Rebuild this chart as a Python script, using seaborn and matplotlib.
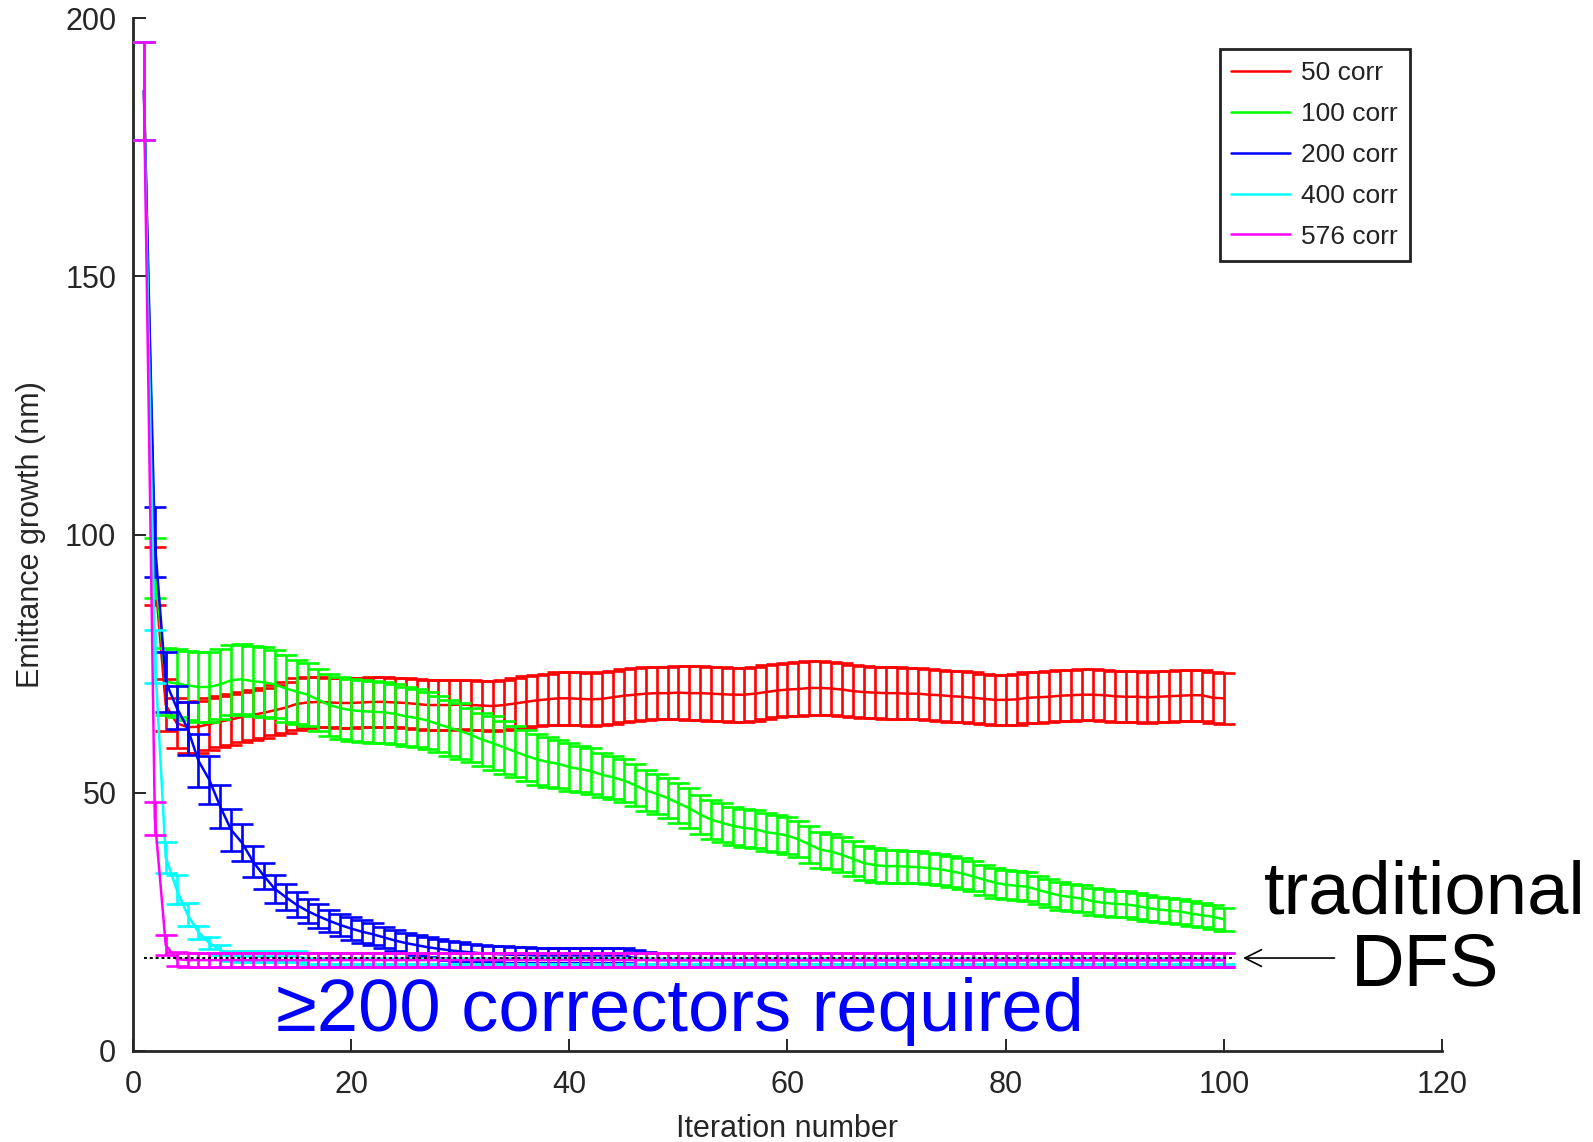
import matplotlib
matplotlib.use("Agg")
import matplotlib.pyplot as plt
import seaborn as sns
import pandas as pd
from matplotlib.lines import Line2D

# iteration numbers
iterations = list(range(1, 101))

# mean emittance growth (nm), one list per corrector count
corr50 = [186, 92, 67, 63.5, 62.7, 62.8, 63.3, 63.8, 64.2, 64.7,
          65.1, 65.5, 66.0, 66.5, 67.2, 67.5, 67.6, 67.5, 67.4, 67.4,
          67.5, 67.6, 67.6, 67.5, 67.4, 67.2, 67.0, 67.0, 67.0, 67.1,
          67.0, 66.9, 66.8, 67.0, 67.3, 67.6, 67.9, 68.1, 68.3, 68.3,
          68.2, 68.1, 68.2, 68.5, 68.8, 69.0, 69.2, 69.3, 69.3, 69.4,
          69.3, 69.3, 69.2, 69.1, 69.0, 69.0, 69.2, 69.5, 69.8, 70.0,
          70.1, 70.3, 70.3, 70.2, 70.0, 69.7, 69.5, 69.4, 69.3, 69.3,
          69.2, 69.2, 69.0, 68.9, 68.7, 68.6, 68.4, 68.2, 68.0, 68.0,
          68.1, 68.4, 68.5, 68.6, 68.8, 68.9, 69.0, 69.0, 68.9, 68.7,
          68.6, 68.6, 68.5, 68.6, 68.7, 68.8, 68.9, 68.9, 68.4, 68.3]
corr50_err = [9.5, 5.6, 5.0, 4.8, 4.9, 5.0, 5.0, 4.9, 4.9, 4.8,
              4.8, 4.8, 4.8, 4.9, 5.0, 4.9, 4.8, 4.8, 4.8, 4.8,
              4.8, 4.8, 4.8, 4.8, 4.8, 4.8, 4.8, 4.8, 4.8, 4.8,
              4.8, 4.8, 4.8, 4.9, 4.9, 5.0, 5.0, 5.0, 5.1, 5.1,
              5.1, 5.1, 5.1, 5.1, 5.1, 5.1, 5.1, 5.1, 5.1, 5.1,
              5.2, 5.2, 5.2, 5.2, 5.2, 5.2, 5.2, 5.2, 5.2, 5.2,
              5.2, 5.2, 5.2, 5.2, 5.2, 5.1, 5.1, 5.0, 5.0, 5.0,
              5.0, 4.9, 4.9, 4.9, 4.9, 4.9, 4.9, 4.9, 4.9, 4.9,
              4.9, 4.9, 4.9, 4.9, 4.9, 4.9, 4.9, 4.9, 4.9, 4.9,
              4.9, 4.9, 4.9, 4.9, 4.9, 4.9, 4.9, 4.9, 4.9, 4.9]

corr100 = [186, 93.5, 71.5, 71.2, 70.8, 70.5, 70.5, 71.0, 71.8, 72.0,
           71.6, 71.4, 71.0, 70.2, 69.6, 69.0, 68.0, 67.0, 66.4, 66.0,
           65.8, 65.7, 65.6, 65.3, 64.8, 64.5, 64.0, 63.3, 62.6, 62.0,
           61.2, 60.3, 59.6, 58.8, 58.0, 57.2, 56.5, 56.0, 55.6, 55.0,
           54.6, 54.2, 53.5, 53.0, 52.4, 51.5, 50.5, 49.8, 49.0, 48.0,
           47.0, 45.8, 44.8, 44.2, 43.6, 43.2, 43.0, 42.4, 42.1, 41.7,
           41.0, 40.0, 39.0, 38.6, 38.0, 37.2, 36.4, 36.0, 35.8, 35.8,
           35.7, 35.6, 35.4, 35.2, 34.8, 34.4, 33.8, 33.2, 32.6, 32.2,
           32.0, 31.8, 31.2, 30.6, 30.1, 29.8, 29.5, 29.0, 28.7, 28.5,
           28.4, 28.1, 27.7, 27.4, 27.2, 27.0, 26.6, 26.3, 26.0, 25.5]
corr100_err = [9.5, 5.8, 6.5, 6.6, 6.7, 6.8, 6.8, 6.8, 6.8, 6.8,
               6.8, 6.8, 6.6, 6.4, 6.2, 6.1, 6.0, 6.0, 6.0, 6.0,
               6.0, 6.0, 5.9, 5.8, 5.7, 5.6, 5.5, 5.4, 5.4, 5.4,
               5.3, 5.2, 5.2, 5.1, 5.0, 5.0, 4.9, 4.8, 4.7, 4.6,
               4.5, 4.4, 4.3, 4.2, 4.1, 4.0, 4.0, 3.9, 3.9, 3.9,
               3.9, 3.8, 3.8, 3.8, 3.7, 3.7, 3.7, 3.6, 3.6, 3.6,
               3.5, 3.5, 3.5, 3.4, 3.4, 3.4, 3.3, 3.3, 3.2, 3.2,
               3.1, 3.1, 3.0, 3.0, 3.0, 3.0, 2.9, 2.9, 2.9, 2.8,
               2.8, 2.8, 2.7, 2.7, 2.7, 2.6, 2.6, 2.6, 2.6, 2.5,
               2.5, 2.5, 2.5, 2.4, 2.4, 2.4, 2.4, 2.3, 2.3, 2.2]

corr200 = [186, 98.5, 71.5, 66.5, 62.5, 56.2, 52.5, 47.3, 42.8, 40.3,
           36.7, 33.9, 31.4, 29.8, 28.3, 27.1, 26.1, 25.2, 24.4, 23.7,
           23.1, 22.6, 22.0, 21.4, 20.9, 20.5, 20.1, 19.8, 19.5, 19.3,
           19.1, 18.9, 18.8, 18.7, 18.6, 18.6, 18.5, 18.5, 18.5, 18.5,
           18.5, 18.5, 18.5, 18.5, 18.5, 18.0, 17.7, 17.6, 17.6, 17.6,
           17.6, 17.6, 17.6, 17.6, 17.6, 17.6, 17.6, 17.6, 17.6, 17.6,
           17.6, 17.6, 17.6, 17.6, 17.6, 17.6, 17.6, 17.6, 17.6, 17.6,
           17.6, 17.6, 17.6, 17.6, 17.6, 17.6, 17.6, 17.6, 17.6, 17.6,
           17.6, 17.6, 17.6, 17.6, 17.6, 17.6, 17.6, 17.6, 17.6, 17.6,
           17.6, 17.6, 17.6, 17.6, 17.6, 17.6, 17.6, 17.6, 17.6, 17.6]
corr200_err = [9.5, 6.8, 5.8, 4.2, 5.1, 5.1, 4.6, 4.2, 4.0, 3.6,
               3.0, 2.6, 2.7, 2.5, 2.4, 2.3, 2.3, 2.2, 2.2, 2.2,
               2.2, 2.1, 2.1, 2.0, 2.0, 1.9, 1.9, 1.8, 1.8, 1.8,
               1.7, 1.7, 1.6, 1.6, 1.5, 1.5, 1.5, 1.4, 1.4, 1.4,
               1.4, 1.4, 1.4, 1.4, 1.4, 1.5, 1.5, 1.4, 1.4, 1.4,
               1.4, 1.4, 1.4, 1.4, 1.4, 1.4, 1.4, 1.4, 1.4, 1.4,
               1.4, 1.4, 1.4, 1.4, 1.4, 1.4, 1.4, 1.4, 1.4, 1.4,
               1.4, 1.4, 1.4, 1.4, 1.4, 1.4, 1.4, 1.4, 1.4, 1.4,
               1.4, 1.4, 1.4, 1.4, 1.4, 1.4, 1.4, 1.4, 1.4, 1.4,
               1.4, 1.4, 1.4, 1.4, 1.4, 1.4, 1.4, 1.4, 1.4, 1.4]

corr400 = [186, 76.4, 37.5, 31.3, 26.4, 23.0, 20.9, 19.6, 18.4, 18.3,
           18.3, 18.3, 18.3, 18.3, 18.3, 17.9, 17.9, 17.9, 17.9, 17.9,
           17.9, 17.9, 17.9, 17.9, 17.9, 17.9, 17.9, 17.9, 17.9, 17.9,
           17.9, 17.9, 17.9, 17.9, 17.9, 17.9, 17.9, 17.9, 17.9, 17.9,
           17.9, 17.9, 17.9, 17.9, 17.9, 17.9, 17.9, 17.9, 17.9, 17.9,
           17.9, 17.9, 17.9, 17.9, 17.9, 17.9, 17.9, 17.9, 17.9, 17.9,
           17.9, 17.9, 17.9, 17.9, 17.9, 17.9, 17.9, 17.9, 17.9, 17.9,
           17.9, 17.9, 17.9, 17.9, 17.9, 17.9, 17.9, 17.9, 17.9, 17.9,
           17.9, 17.9, 17.9, 17.9, 17.9, 17.9, 17.9, 17.9, 17.9, 17.9,
           17.9, 17.9, 17.9, 17.9, 17.9, 17.9, 17.9, 17.9, 17.9, 17.9]
corr400_err = [9.5, 5.2, 3.0, 2.8, 2.2, 1.3, 1.1, 1.0, 1.0, 1.0,
               1.0, 1.0, 1.0, 1.0, 1.0, 1.0, 1.0, 1.0, 1.0, 1.0,
               1.0, 1.0, 1.0, 1.0, 1.0, 1.0, 1.0, 1.0, 1.0, 1.0,
               1.0, 1.0, 1.0, 1.0, 1.0, 1.0, 1.0, 1.0, 1.0, 1.0,
               1.0, 1.0, 1.0, 1.0, 1.0, 1.0, 1.0, 1.0, 1.0, 1.0,
               1.0, 1.0, 1.0, 1.0, 1.0, 1.0, 1.0, 1.0, 1.0, 1.0,
               1.0, 1.0, 1.0, 1.0, 1.0, 1.0, 1.0, 1.0, 1.0, 1.0,
               1.0, 1.0, 1.0, 1.0, 1.0, 1.0, 1.0, 1.0, 1.0, 1.0,
               1.0, 1.0, 1.0, 1.0, 1.0, 1.0, 1.0, 1.0, 1.0, 1.0,
               1.0, 1.0, 1.0, 1.0, 1.0, 1.0, 1.0, 1.0, 1.0, 1.0]

corr576 = [186, 45.0, 20.5, 17.8, 17.6, 17.6, 17.6, 17.6, 17.6, 17.6,
           17.6, 17.6, 17.6, 17.6, 17.6, 17.6, 17.6, 17.6, 17.6, 17.6,
           17.6, 17.6, 17.6, 17.6, 17.6, 17.6, 17.6, 17.6, 17.6, 17.6,
           17.6, 17.6, 17.6, 17.6, 17.6, 17.6, 17.6, 17.6, 17.6, 17.6,
           17.6, 17.6, 17.6, 17.6, 17.6, 17.6, 17.6, 17.6, 17.6, 17.6,
           17.6, 17.6, 17.6, 17.6, 17.6, 17.6, 17.6, 17.6, 17.6, 17.6,
           17.6, 17.6, 17.6, 17.6, 17.6, 17.6, 17.6, 17.6, 17.6, 17.6,
           17.6, 17.6, 17.6, 17.6, 17.6, 17.6, 17.6, 17.6, 17.6, 17.6,
           17.6, 17.6, 17.6, 17.6, 17.6, 17.6, 17.6, 17.6, 17.6, 17.6,
           17.6, 17.6, 17.6, 17.6, 17.6, 17.6, 17.6, 17.6, 17.6, 17.6]
corr576_err = [9.5, 3.2, 2.0, 1.4, 1.35, 1.35, 1.35, 1.35, 1.35, 1.35,
               1.35, 1.35, 1.35, 1.35, 1.35, 1.35, 1.35, 1.35, 1.35, 1.35,
               1.35, 1.35, 1.35, 1.35, 1.35, 1.35, 1.35, 1.35, 1.35, 1.35,
               1.35, 1.35, 1.35, 1.35, 1.35, 1.35, 1.35, 1.35, 1.35, 1.35,
               1.35, 1.35, 1.35, 1.35, 1.35, 1.35, 1.35, 1.35, 1.35, 1.35,
               1.35, 1.35, 1.35, 1.35, 1.35, 1.35, 1.35, 1.35, 1.35, 1.35,
               1.35, 1.35, 1.35, 1.35, 1.35, 1.35, 1.35, 1.35, 1.35, 1.35,
               1.35, 1.35, 1.35, 1.35, 1.35, 1.35, 1.35, 1.35, 1.35, 1.35,
               1.35, 1.35, 1.35, 1.35, 1.35, 1.35, 1.35, 1.35, 1.35, 1.35,
               1.35, 1.35, 1.35, 1.35, 1.35, 1.35, 1.35, 1.35, 1.35, 1.35]

labels = ["50 corr", "100 corr", "200 corr", "400 corr", "576 corr"]
colors = ["#ff0000", "#00ff00", "#0000ff", "#00ffff", "#ff00ff"]
means = [corr50, corr100, corr200, corr400, corr576]
errs = [corr50_err, corr100_err, corr200_err, corr400_err, corr576_err]

# traditional DFS reference level
dfs_x = [1, 101]
dfs_y = [18.0, 18.0]

sns.set_theme(style="ticks")
plt.rcParams["font.family"] = ["Liberation Sans", "DejaVu Sans"]
dark = "#262626"

fig = plt.figure(figsize=(15.93, 11.42), dpi=100)
ax = fig.add_axes([0.0835, 0.0797, 0.8217, 0.9043])

for i, (lab, col, m, e) in enumerate(zip(labels, colors, means, errs)):
    df = pd.DataFrame({"Iteration": iterations, "Emittance": m})
    sns.lineplot(data=df, x="Iteration", y="Emittance", color=col, lw=1.8,
                 ax=ax, zorder=2 + i, legend=False)
    ax.errorbar(iterations, m, yerr=e, fmt="none", ecolor=col, elinewidth=1.9,
                capsize=8, capthick=1.9, zorder=2 + i)

ax.plot(dfs_x, dfs_y, color="black", ls=(0, (1.5, 1.5)), lw=1.4, zorder=10)

ax.set_xlim(0, 120)
ax.set_ylim(0, 200)
ax.set_xticks([0, 20, 40, 60, 80, 100, 120])
ax.set_yticks([0, 50, 100, 150, 200])
ax.tick_params(direction="in", length=9, width=1.4, colors=dark, labelsize=22)
ax.tick_params(axis="x", pad=14)
ax.tick_params(axis="y", pad=12)
for s in ["top", "right"]:
    ax.spines[s].set_visible(False)
for s in ["left", "bottom"]:
    ax.spines[s].set_linewidth(2.0)
    ax.spines[s].set_color(dark)

ax.set_xlabel("Iteration number", fontsize=22, color=dark, labelpad=10)
ax.set_ylabel("Emittance growth (nm)", fontsize=22, color=dark, labelpad=14)

handles = [Line2D([0], [0], color=c, lw=1.8) for c in colors]
leg = ax.legend(handles, labels, loc="upper right", bbox_to_anchor=(0.9756, 0.970),
                borderaxespad=0, fontsize=19, fancybox=False, framealpha=1,
                edgecolor="#222222", handlelength=2.2, labelspacing=0.64,
                handletextpad=0.45, borderpad=0.45)
leg.get_frame().set_linewidth(2.0)
for t in leg.get_texts():
    t.set_color("#222222")

ax.text(50.1, 3.9, "\u2265200 correctors required", color="#0000ff", fontsize=53.5,
        ha="center", va="baseline", zorder=12)
ax.text(118.4, 26.7, "traditional", color="black", fontsize=53.5, ha="center",
        va="baseline", clip_on=False)
ax.text(118.5, 12.6, "DFS", color="black", fontsize=53.5, ha="center",
        va="baseline", clip_on=False)
ax.annotate("", xy=(101.5, 18.0), xytext=(110.4, 18.0),
            arrowprops=dict(arrowstyle="->", color="black", lw=1.2, mutation_scale=30),
            annotation_clip=False)

fig.savefig("out.png", dpi=100)
